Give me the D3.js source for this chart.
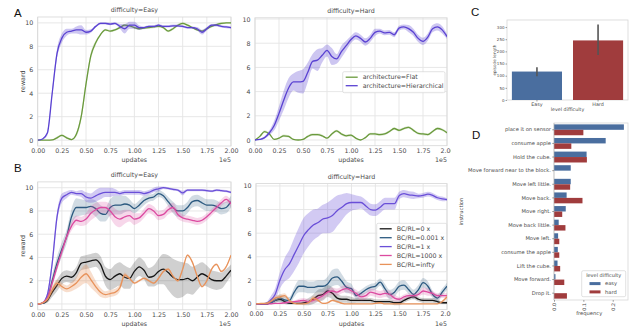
<!DOCTYPE html>
<html>
<head>
<meta charset="utf-8">
<script src="https://cdn.jsdelivr.net/npm/d3@7/dist/d3.min.js"></script>
<style>
  body { margin: 0; background: #fff; }
  svg { font-family: "DejaVu Sans", sans-serif; }
</style>
</head>
<body>
<svg id="fig" width="640" height="329"></svg>
<script>
// x positions of every sample, in units of 1e5 updates
var updates = [0, 0.05, 0.1, 0.15, 0.2, 0.25, 0.3, 0.35, 0.4, 0.45, 0.5, 0.55, 0.6, 0.65, 0.7, 0.75, 0.8, 0.85, 0.9, 0.95,
  1.0, 1.05, 1.1, 1.15, 1.2, 1.25, 1.3, 1.35, 1.4, 1.45, 1.5, 1.55, 1.6, 1.65, 1.7, 1.75, 1.8, 1.85, 1.9, 1.95, 2.0]
var xTicks = [0, 0.25, 0.5, 0.75, 1, 1.25, 1.5, 1.75, 2]
var xTickLabels = ['0.00', '0.25', '0.50', '0.75', '1.00', '1.25', '1.50', '1.75', '2.00']
var yTicks = [0, 2, 4, 6, 8, 10]

// A: architecture, easy
var easyFlat = [0, 0, 0, 0.02, 0.2, 0.4, 0.2, 0.05, 0.5, 2.0, 4.8, 7.2, 8.3, 9.0, 9.4, 9.3, 9.4, 9.6, 9.8, 9.75,
  9.6, 9.5, 9.55, 9.6, 9.65, 9.7, 9.6, 9.3, 9.5, 9.8, 9.95, 9.8, 9.6, 9.4, 9.3, 9.5, 9.7, 9.85, 9.95, 10.0, 10.0]
var easyFlatBand = [0, 0, 0, 0.02, 0.1, 0.1, 0.1, 0.05, 0.2, 0.3, 0.3, 0.3, 0.2, 0.1, 0.1, 0.1, 0.1, 0.1, 0.1, 0.1,
  0.1, 0.1, 0.1, 0.1, 0.1, 0.1, 0.1, 0.1, 0.1, 0.1, 0.1, 0.1, 0.1, 0.1, 0.1, 0.1, 0.1, 0.1, 0.1, 0.05, 0.05]
var easyHier = [0, 0.1, 0.6, 4.0, 7.4, 8.7, 9.2, 9.3, 9.4, 9.4, 9.2, 9.3, 9.7, 9.95, 9.95, 9.9, 9.95, 9.7, 9.5, 9.8,
  9.8, 9.6, 9.6, 9.7, 9.7, 9.8, 9.7, 9.7, 9.75, 9.75, 9.7, 9.6, 9.6, 9.5, 9.2, 9.5, 9.8, 9.8, 9.7, 9.65, 9.6]
var easyHierBand = [0, 0.05, 0.2, 0.3, 0.4, 0.4, 0.3, 0.2, 0.3, 0.4, 0.2, 0.15, 0.1, 0.1, 0.1, 0.1, 0.1, 0.2, 0.4, 0.3,
  0.3, 0.2, 0.1, 0.1, 0.1, 0.1, 0.1, 0.1, 0.1, 0.1, 0.1, 0.1, 0.1, 0.15, 0.2, 0.15, 0.1, 0.1, 0.1, 0.1, 0.1]

// A: architecture, hard
var hardFlat = [0, 0.3, 0.7, 0.5, 0.05, 0.15, 0.35, 0.3, 0.05, 0, 0.05, 0.3, 0.45, 0.45, 0.35, 0.15, 0.5, 0.75, 0.5, 0.35,
  0.4, 0.15, 0, 0.2, 0.5, 0.5, 0.45, 0.5, 0.7, 0.95, 0.8, 0.95, 1.05, 0.8, 0.55, 0.5, 0.45, 0.7, 0.95, 0.85, 0.6]
var hardFlatBand = [0, 0.05, 0.1, 0.1, 0.05, 0.05, 0.1, 0.1, 0.05, 0, 0.05, 0.1, 0.1, 0.1, 0.1, 0.05, 0.1, 0.1, 0.1, 0.1,
  0.1, 0.05, 0, 0.05, 0.1, 0.1, 0.1, 0.1, 0.1, 0.1, 0.1, 0.1, 0.1, 0.1, 0.1, 0.1, 0.1, 0.1, 0.1, 0.1, 0.1]
var hardHier = [0, 0.05, 0.2, 0.6, 1.2, 2.2, 3.3, 4.3, 4.8, 4.8, 4.85, 5.6, 6.5, 6.6, 7.0, 7.4, 6.9, 6.7, 7.3, 7.8,
  8.3, 8.6, 8.4, 8.1, 8.4, 8.9, 9.0, 8.85, 8.9, 8.7, 9.25, 9.35, 9.2, 8.9, 8.4, 8.15, 8.5, 9.2, 9.35, 9.1, 8.55]
var hardHierBand = [0, 0.05, 0.1, 0.2, 0.4, 0.6, 0.8, 0.8, 0.7, 0.9, 1.0, 0.8, 0.6, 0.9, 0.6, 0.5, 0.7, 0.4, 0.5, 0.4,
  0.3, 0.3, 0.3, 0.3, 0.3, 0.3, 0.2, 0.2, 0.2, 0.2, 0.2, 0.2, 0.3, 0.3, 0.3, 0.3, 0.3, 0.3, 0.3, 0.3, 0.2]

// B: BC/RL ratio, easy
var bcEasy0 = [0, 0.05, 0.3, 1.0, 1.6, 2.2, 2.4, 2.3, 2.7, 3.5, 3.6, 3.7, 3.8, 3.4, 2.4, 2.1, 2.4, 2.6, 2.3, 2.2,
  2.8, 3.2, 2.9, 2.3, 2.4, 2.8, 3.0, 2.7, 2.3, 2.1, 2.1, 2.2, 2.0, 2.3, 2.6, 2.4, 2.1, 2.0, 2.0, 2.4, 2.9]
var bcEasy0Band = [0, 0.05, 0.2, 0.4, 0.5, 0.5, 0.5, 0.5, 0.5, 0.6, 0.6, 0.6, 0.6, 0.7, 0.8, 0.9, 1.0, 1.0, 1.0, 0.9,
  0.8, 0.8, 0.8, 0.8, 0.9, 1.1, 1.3, 1.5, 1.6, 1.6, 1.5, 1.3, 1.2, 1.1, 1.0, 0.9, 0.8, 0.8, 0.7, 0.6, 0.5]
var bcEasy0001 = [0, 0.05, 0.5, 2.0, 3.5, 4.7, 5.8, 7.5, 8.3, 8.3, 8.3, 8.4, 8.2, 7.8, 7.7, 8.3, 8.5, 8.5, 8.6, 8.5,
  8.2, 8.5, 8.9, 9.1, 9.2, 9.5, 9.3, 8.8, 8.3, 8.0, 8.0, 8.3, 8.8, 8.9, 8.7, 8.5, 8.5, 8.4, 8.2, 8.3, 8.8]
var bcEasy0001Band = [0, 0.05, 0.3, 0.5, 0.6, 0.6, 0.6, 0.7, 0.8, 0.7, 0.6, 0.6, 0.7, 0.7, 0.6, 0.7, 0.8, 0.8, 0.7, 0.5,
  0.4, 0.4, 0.4, 0.3, 0.3, 0.3, 0.3, 0.4, 0.5, 0.5, 0.5, 0.5, 0.5, 0.5, 0.5, 0.5, 0.5, 0.5, 0.5, 0.5, 0.5]
var bcEasy1 = [0, 0.1, 0.8, 3.5, 7.5, 9.1, 9.4, 9.6, 9.5, 9.5, 9.2, 9.1, 9.3, 9.5, 9.6, 9.6, 9.6, 9.5, 9.6, 9.6,
  9.6, 9.6, 9.5, 9.6, 9.8, 9.9, 10.0, 9.95, 9.85, 9.8, 9.55, 9.8, 9.8, 9.8, 9.8, 9.75, 9.7, 9.8, 9.75, 9.7, 9.6]
var bcEasy1Band = [0, 0.05, 0.2, 0.4, 0.4, 0.4, 0.3, 0.2, 0.2, 0.3, 0.4, 0.4, 0.5, 0.5, 0.4, 0.4, 0.3, 0.2, 0.2, 0.2,
  0.2, 0.2, 0.2, 0.2, 0.2, 0.2, 0.1, 0.1, 0.1, 0.1, 0.2, 0.1, 0.1, 0.1, 0.1, 0.1, 0.1, 0.1, 0.1, 0.1, 0.1]
var bcEasy1000 = [0, 0.1, 0.5, 1.8, 3.2, 4.5, 5.8, 6.7, 7.2, 7.1, 7.3, 7.8, 8.1, 8.3, 8.3, 8.0, 7.5, 7.3, 7.5, 7.6,
  7.3, 7.4, 7.8, 8.2, 8.0, 7.6, 7.7, 8.1, 8.3, 7.7, 7.4, 7.3, 7.2, 7.1, 7.2, 7.5, 7.9, 8.3, 8.7, 9.0, 8.6]
var bcEasy1000Band = [0, 0.05, 0.2, 0.3, 0.3, 0.3, 0.3, 0.4, 0.4, 0.4, 0.5, 0.6, 0.6, 0.5, 0.5, 0.6, 0.7, 0.7, 0.6, 0.5,
  0.5, 0.4, 0.4, 0.4, 0.4, 0.4, 0.4, 0.4, 0.4, 0.4, 0.3, 0.3, 0.3, 0.3, 0.3, 0.3, 0.3, 0.3, 0.3, 0.3, 0.3]
var bcEasyInf = [0, 0.1, 0.4, 1.2, 1.8, 1.5, 1.3, 1.5, 1.8, 2.3, 2.6, 2.1, 1.5, 1.0, 0.8, 0.9, 1.0, 1.4, 2.5, 2.2,
  1.8, 2.0, 2.2, 2.0, 1.8, 2.2, 2.8, 3.0, 2.4, 2.0, 3.0, 4.2, 3.6, 2.4, 1.5, 2.0, 3.0, 3.4, 2.8, 3.2, 4.2]
var bcEasyInfBand = [0, 0.05, 0.2, 0.3, 0.3, 0.3, 0.3, 0.4, 0.5, 0.7, 0.8, 0.7, 0.5, 0.4, 0.3, 0.3, 0.3, 0.3, 0.2, 0.1,
  0.1, 0.1, 0.1, 0.1, 0.1, 0.1, 0.1, 0.1, 0.1, 0.1, 0.1, 0.1, 0.1, 0.1, 0.1, 0.1, 0.1, 0.1, 0.1, 0.1, 0.1]

// B: BC/RL ratio, hard
var bcHard0 = [0, 0, 0, 0.1, 0.3, 0.4, 0.2, 0.05, 0.05, 0.05, 0.1, 0.2, 0.4, 0.7, 0.8, 1.1, 0.9, 0.5, 0.4, 0.4,
  0.3, 0.3, 0.3, 0.3, 0.3, 0.2, 0.2, 0.2, 0.2, 0.1, 0.1, 0.3, 0.5, 0.6, 0.4, 0.3, 0.3, 0.3, 0.2, 0.1, 0.1]
var bcHard0Band = [0, 0, 0, 0.1, 0.2, 0.2, 0.2, 0.1, 0.1, 0.1, 0.2, 0.3, 0.4, 0.5, 0.5, 0.5, 0.5, 0.4, 0.3, 0.3,
  0.3, 0.2, 0.2, 0.2, 0.2, 0.2, 0.2, 0.2, 0.2, 0.2, 0.2, 0.2, 0.2, 0.2, 0.2, 0.2, 0.2, 0.2, 0.2, 0.1, 0.1]
var bcHard0001 = [0, 0, 0, 0.1, 0.3, 0.5, 0.35, 0.3, 1.0, 1.5, 1.5, 1.4, 1.4, 1.5, 1.5, 1.7, 2.2, 2.3, 1.9, 1.4,
  1.3, 0.7, 0.9, 1.2, 1.4, 1.5, 1.85, 1.3, 0.8, 1.0, 1.5, 1.6, 1.2, 0.8, 1.2, 1.8, 1.5, 0.8, 0.5, 1.0, 1.5]
var bcHard0001Band = [0, 0, 0, 0.1, 0.2, 0.3, 0.3, 0.3, 0.4, 0.5, 0.5, 0.5, 0.5, 0.5, 0.5, 0.6, 0.7, 0.7, 0.6, 0.5,
  0.4, 0.3, 0.3, 0.3, 0.3, 0.3, 0.3, 0.4, 0.4, 0.4, 0.4, 0.4, 0.4, 0.4, 0.4, 0.4, 0.4, 0.3, 0.3, 0.3, 0.3]
var bcHard1 = [0, 0.02, 0.05, 0.3, 0.8, 2.0, 2.9, 3.4, 4.2, 5.0, 5.8, 6.3, 6.7, 6.9, 7.2, 7.3, 7.5, 7.9, 8.2, 8.5,
  8.6, 8.6, 8.6, 8.3, 8.0, 7.95, 8.2, 8.5, 8.5, 8.5, 9.2, 9.35, 9.25, 9.2, 9.15, 9.2, 9.3, 9.2, 9.0, 8.9, 8.85]
var bcHard1Band = [0, 0.02, 0.05, 0.3, 0.5, 0.7, 1.0, 1.2, 1.4, 1.5, 1.5, 1.4, 1.3, 1.2, 1.2, 1.3, 1.4, 1.3, 1.1, 0.9,
  0.7, 0.6, 0.5, 0.5, 0.5, 0.5, 0.5, 0.5, 0.5, 0.5, 0.3, 0.3, 0.3, 0.3, 0.2, 0.2, 0.2, 0.2, 0.2, 0.2, 0.1]
var bcHard1000 = [0, 0, 0, 0, 0.05, 0.05, 0.1, 0.15, 0.2, 0.25, 0.3, 0.2, 0.3, 0.5, 0.7, 1.0, 1.1, 1.0, 1.2, 1.3,
  1.1, 0.9, 0.6, 0.7, 1.0, 0.9, 0.8, 0.9, 0.8, 0.5, 0.4, 0.6, 0.7, 0.7, 0.8, 1.1, 1.0, 0.9, 0.7, 0.7, 0.7]
var bcHard1000Band = [0, 0, 0, 0, 0.05, 0.05, 0.1, 0.1, 0.1, 0.2, 0.2, 0.2, 0.2, 0.3, 0.3, 0.3, 0.3, 0.3, 0.3, 0.3,
  0.3, 0.3, 0.3, 0.3, 0.3, 0.3, 0.3, 0.3, 0.3, 0.3, 0.2, 0.2, 0.2, 0.2, 0.2, 0.3, 0.3, 0.2, 0.2, 0.2, 0.2]
var bcHardInf = [0, 0.05, 0.05, 0.2, 0.5, 0.6, 0.7, 0.3, 0.05, 0, 0, 0.1, 0.5, 0.3, 0.05, 0.1, 0.3, 0.2, 0.05, 0,
  0, 0, 0, 0, 0, 0.05, 0.1, 0, 0, 0, 0, 0, 0, 0, 0, 0, 0, 0, 0, 0.2, 0.6]
var bcHardInfBand = [0, 0.02, 0.05, 0.1, 0.2, 0.2, 0.2, 0.1, 0.05, 0, 0, 0.05, 0.2, 0.1, 0.05, 0.05, 0.1, 0.1, 0.05, 0,
  0, 0, 0, 0, 0, 0.05, 0.05, 0, 0, 0, 0, 0, 0, 0, 0, 0, 0, 0, 0, 0.1, 0.2]

var archNames = ['architecture=Flat', 'architecture=Hierarchical']
var archColors = ['#6a9a3c', '#5a42d2']
var bcNames = ['BC/RL=0 x', 'BC/RL=0.001 x', 'BC/RL=1 x', 'BC/RL=1000 x', 'BC/RL=infty']
var bcColors = ['#161616', '#2c5a80', '#6a4fd8', '#dc4aa0', '#e8925a']

// C: episode length
var levels = ['Easy', 'Hard']
var episodeLength = [117, 245]
var episodeLow = [98, 185]
var episodeHigh = [135, 310]
var lengthTicks = [0, 50, 100, 150, 200, 250, 300]

// D: instruction frequency
var instructions = ['place it on sensor', 'consume apple', 'Hold the cube.', 'Move forward near to the block.',
  'Move left little.', 'Move back.', 'Move right.', 'Move back little.', 'Move left.', 'consume the apple',
  'Lift the cube.', 'Move forward.', 'Drop it.']
var freqEasy = [0.238, 0.176, 0.111, 0.057, 0.057, 0.043, 0.040, 0.016, 0.014, 0.013, 0.012, 0.005, 0]
var freqHard = [0.100, 0.059, 0.112, 0, 0.055, 0.097, 0.028, 0.039, 0.018, 0.018, 0.021, 0.035, 0.044]
var freqTicks = [0, 0.1, 0.2]
var diffNames = ['easy', 'hard']
var diffColors = ['#4a6e9f', '#a03c3d']

var gridColor = '#e4e4e4'
var spineColor = '#d6d6d6'
var textColor = '#4a4a4a'

var svg = d3.select('#fig')

///////////////////////
// LINE PANELS (A,B) //
///////////////////////

function linePanel(p) {
  var g = svg.append('g')
  var x = d3.scaleLinear().domain([0, 2]).range([p.left, p.right])
  var y = d3.scaleLinear().domain(p.yDomain).range([p.bottom, p.top])

  g.append('g').selectAll('line').data(xTicks).join('line')
    .attr('x1', d => x(d)).attr('x2', d => x(d))
    .attr('y1', p.top).attr('y2', p.bottom)
    .attr('stroke', gridColor).attr('stroke-width', 0.9)
  g.append('g').selectAll('line').data(yTicks).join('line')
    .attr('x1', p.left).attr('x2', p.right)
    .attr('y1', d => y(d)).attr('y2', d => y(d))
    .attr('stroke', gridColor).attr('stroke-width', 0.9)
  g.append('rect')
    .attr('x', p.left).attr('y', p.top)
    .attr('width', p.right - p.left).attr('height', p.bottom - p.top)
    .attr('fill', 'none').attr('stroke', spineColor).attr('stroke-width', 0.8)

  svg.append('clipPath').attr('id', 'clip-' + p.id)
    .append('rect')
    .attr('x', p.left).attr('y', p.top)
    .attr('width', p.right - p.left).attr('height', p.bottom - p.top)
  var plot = g.append('g').attr('clip-path', 'url(#clip-' + p.id + ')')

  var area = d3.area().curve(d3.curveMonotoneX)
    .x(d => x(d.u)).y0(d => y(d.v - d.b)).y1(d => y(d.v + d.b))
  var line = d3.line().curve(d3.curveMonotoneX)
    .x(d => x(d.u)).y(d => y(d.v))

  p.series.forEach(function(s) {
    var pts = updates.map((u, i) => ({u: u, v: s.values[i], b: s.band[i]}))
    plot.append('path').attr('d', area(pts))
      .attr('fill', s.color).attr('opacity', s.bandOpacity || 0.22)
    plot.append('path').attr('d', line(pts))
      .attr('fill', 'none').attr('stroke', s.color).attr('stroke-width', 1.3)
  })

  // axes
  var labels = g.append('g').attr('clip-path', p.labelClip ? 'url(#' + p.labelClip + ')' : null)
  var xAxis = d3.axisBottom(x).tickValues(xTicks)
    .tickFormat((d, i) => xTickLabels[i]).tickSize(0).tickPadding(2.5)
  labels.append('g').attr('transform', 'translate(0,' + p.bottom + ')').call(xAxis)
    .call(a => a.select('.domain').remove())
    .selectAll('text').attr('font-size', 6.3).attr('fill', textColor).attr('font-family', 'DejaVu Sans')

  var yAxis = d3.axisLeft(y).tickValues(yTicks).tickSize(0).tickPadding(4.5)
  g.append('g').attr('transform', 'translate(' + p.left + ',0)').call(yAxis)
    .call(a => a.select('.domain').remove())
    .selectAll('text').attr('font-size', 6.3).attr('fill', textColor).attr('font-family', 'DejaVu Sans')

  g.append('text').attr('x', (p.left + p.right) / 2).attr('y', p.top - 5)
    .attr('text-anchor', 'middle').attr('font-size', 6.3).attr('fill', textColor)
    .text(p.title)
  g.append('text').attr('x', (p.left + p.right) / 2).attr('y', p.bottom + 16)
    .attr('text-anchor', 'middle').attr('font-size', 6.3).attr('fill', textColor)
    .text('updates')
  g.append('text').attr('x', p.right).attr('y', p.bottom + 16)
    .attr('text-anchor', 'end').attr('font-size', 6.3).attr('fill', textColor)
    .text('1e5')
  if (p.yLabel) {
    g.append('text').attr('transform', 'translate(' + (p.left - 15) + ',' + ((p.top + p.bottom) / 2) + ') rotate(-90)')
      .attr('text-anchor', 'middle').attr('dy', '0.35em').attr('font-size', 6.3).attr('fill', textColor)
      .text(p.yLabel)
  }

  if (p.legend) {
    var lg = g.append('g')
    var L = p.legend
    lg.append('rect').attr('x', L.x).attr('y', L.y).attr('width', L.w)
      .attr('height', L.rowH * L.names.length + 4).attr('rx', 1.5)
      .attr('fill', '#fff').attr('fill-opacity', 0.85).attr('stroke', '#d0d0d0').attr('stroke-width', 0.6)
    L.names.forEach(function(name, i) {
      var cy = L.y + 5.5 + i * L.rowH
      lg.append('line').attr('x1', L.x + 3).attr('x2', L.x + 15).attr('y1', cy).attr('y2', cy)
        .attr('stroke', L.colors[i]).attr('stroke-width', 1.3)
      lg.append('text').attr('x', L.x + 20).attr('y', cy).attr('dy', '0.35em')
        .attr('font-size', 6.3).attr('fill', textColor).text(name)
    })
  }
}

// clip that cuts the right-hand tick labels at the figure edge
svg.append('clipPath').attr('id', 'rightEdge')
  .append('rect').attr('x', 230).attr('y', 0).attr('width', 221).attr('height', 329)

linePanel({
  id: 'aEasy', left: 37.7, right: 231, top: 17, bottom: 146, yDomain: [-0.5, 10.5],
  title: 'difficulty=Easy', yLabel: 'reward',
  series: [
    {values: easyFlat, band: easyFlatBand, color: archColors[0]},
    {values: easyHier, band: easyHierBand, color: archColors[1], bandOpacity: 0.3}
  ]
})
linePanel({
  id: 'aHard', left: 255, right: 447, top: 17.8, bottom: 145.7, yDomain: [-0.47, 10.1],
  title: 'difficulty=Hard', labelClip: 'rightEdge',
  series: [
    {values: hardFlat, band: hardFlatBand, color: archColors[0]},
    {values: hardHier, band: hardHierBand, color: archColors[1], bandOpacity: 0.3}
  ],
  legend: {x: 342.7, y: 71.7, w: 102.3, rowH: 8.5, names: archNames, colors: archColors}
})
linePanel({
  id: 'bEasy', left: 37.7, right: 231, top: 181.9, bottom: 309.8, yDomain: [-0.5, 10.5],
  title: 'difficulty=Easy', yLabel: 'reward',
  series: [
    {values: bcEasy0, band: bcEasy0Band, color: bcColors[0], bandOpacity: 0.2},
    {values: bcEasy0001, band: bcEasy0001Band, color: bcColors[1]},
    {values: bcEasy1, band: bcEasy1Band, color: bcColors[2], bandOpacity: 0.3},
    {values: bcEasy1000, band: bcEasy1000Band, color: bcColors[3]},
    {values: bcEasyInf, band: bcEasyInfBand, color: bcColors[4], bandOpacity: 0.3}
  ]
})
linePanel({
  id: 'bHard', left: 256, right: 447, top: 183.6, bottom: 309.5, yDomain: [-0.47, 10.2],
  title: 'difficulty=Hard', labelClip: 'rightEdge',
  series: [
    {values: bcHard0, band: bcHard0Band, color: bcColors[0], bandOpacity: 0.2},
    {values: bcHard0001, band: bcHard0001Band, color: bcColors[1]},
    {values: bcHard1, band: bcHard1Band, color: bcColors[2], bandOpacity: 0.3},
    {values: bcHard1000, band: bcHard1000Band, color: bcColors[3]},
    {values: bcHardInf, band: bcHardInfBand, color: bcColors[4], bandOpacity: 0.3}
  ],
  legend: {x: 376.7, y: 223.3, w: 70, rowH: 8.9, names: bcNames, colors: bcColors}
})

/////////////////////
// C: BAR + ERRORS //
/////////////////////

var cBox = {left: 507, right: 628, top: 20, bottom: 100}
var cx = d3.scaleBand().domain(levels).range([cBox.left, cBox.right]).paddingInner(0.18).paddingOuter(0.08)
var cy = d3.scaleLinear().domain([0, 329]).range([cBox.bottom, cBox.top])
var cg = svg.append('g')
cg.append('rect').attr('x', cBox.left).attr('y', cBox.top)
  .attr('width', cBox.right - cBox.left).attr('height', cBox.bottom - cBox.top)
  .attr('fill', 'none').attr('stroke', spineColor).attr('stroke-width', 0.8)
cg.selectAll('rect.bar').data(levels).join('rect').attr('class', 'bar')
  .attr('x', d => cx(d)).attr('width', cx.bandwidth())
  .attr('y', (d, i) => cy(episodeLength[i])).attr('height', (d, i) => cy(0) - cy(episodeLength[i]))
  .attr('fill', (d, i) => diffColors[i])
cg.selectAll('line.err').data(levels).join('line').attr('class', 'err')
  .attr('x1', d => cx(d) + cx.bandwidth() / 2).attr('x2', d => cx(d) + cx.bandwidth() / 2)
  .attr('y1', (d, i) => cy(episodeLow[i])).attr('y2', (d, i) => cy(episodeHigh[i]))
  .attr('stroke', '#555').attr('stroke-width', 1.6)
cg.append('g').attr('transform', 'translate(' + cBox.left + ',0)')
  .call(d3.axisLeft(cy).tickValues(lengthTicks).tickSize(1.5).tickPadding(1))
  .call(a => a.select('.domain').remove())
  .call(a => a.selectAll('line').attr('stroke', '#444').attr('stroke-width', 0.5))
  .selectAll('text').attr('font-size', 4).attr('fill', textColor).attr('font-family', 'DejaVu Sans')
cg.append('g').attr('transform', 'translate(0,' + cBox.bottom + ')')
  .call(d3.axisBottom(cx).tickSize(1.5).tickPadding(1))
  .call(a => a.select('.domain').remove())
  .call(a => a.selectAll('line').attr('stroke', '#444').attr('stroke-width', 0.5))
  .selectAll('text').attr('font-size', 4.8).attr('fill', textColor).attr('font-family', 'DejaVu Sans')
cg.append('text').attr('x', (cBox.left + cBox.right) / 2).attr('y', 111)
  .attr('text-anchor', 'middle').attr('font-size', 4.8).attr('fill', textColor).text('level difficulty')
cg.append('text').attr('transform', 'translate(495,' + ((cBox.top + cBox.bottom) / 2) + ') rotate(-90)')
  .attr('text-anchor', 'middle').attr('dy', '0.35em').attr('font-size', 4.2).attr('fill', textColor)
  .text('episode length')

/////////////////////////
// D: GROUPED BARS (H) //
/////////////////////////

var dBox = {left: 554, right: 628, top: 123, bottom: 300}
var dx = d3.scaleLinear().domain([0, 0.252]).range([dBox.left, dBox.right])
var dy = d3.scaleBand().domain(instructions).range([dBox.top, dBox.bottom]).paddingInner(0.2).paddingOuter(0.1)
var dSub = d3.scaleBand().domain(diffNames).range([0, dy.bandwidth()])
var dg = svg.append('g')
dg.append('rect').attr('x', dBox.left).attr('y', dBox.top)
  .attr('width', dBox.right - dBox.left).attr('height', dBox.bottom - dBox.top)
  .attr('fill', 'none').attr('stroke', spineColor).attr('stroke-width', 0.8)

var freqs = [freqEasy, freqHard]
diffNames.forEach(function(name, k) {
  dg.append('g').selectAll('rect').data(instructions).join('rect')
    .attr('x', dx(0)).attr('y', d => dy(d) + dSub(name))
    .attr('width', (d, i) => dx(freqs[k][i]) - dx(0)).attr('height', dSub.bandwidth())
    .attr('fill', diffColors[k])
})
dg.append('line').attr('x1', dBox.left).attr('x2', dBox.left)
  .attr('y1', dBox.top).attr('y2', dBox.bottom).attr('stroke', '#bbb').attr('stroke-width', 0.6)

dg.append('g').attr('transform', 'translate(' + dBox.left + ',0)')
  .call(d3.axisLeft(dy).tickSize(1.8).tickPadding(1.2))
  .call(a => a.select('.domain').remove())
  .call(a => a.selectAll('line').attr('stroke', '#444').attr('stroke-width', 0.5))
  .selectAll('text').attr('font-size', 5.2).attr('fill', textColor).attr('font-family', 'DejaVu Sans')

var dAxis = dg.append('g').attr('transform', 'translate(0,' + dBox.bottom + ')')
  .call(d3.axisBottom(dx).tickValues(freqTicks).tickFormat(d3.format('.1f')).tickSize(1.8))
  .call(a => a.select('.domain').remove())
  .call(a => a.selectAll('line').attr('stroke', '#444').attr('stroke-width', 0.5))
dAxis.selectAll('text')
  .attr('font-size', 4.8).attr('fill', textColor).attr('font-family', 'DejaVu Sans')
  .attr('y', 0).attr('dy', '0.35em').attr('text-anchor', 'end')
  .attr('transform', 'translate(0,3) rotate(-90)')
dg.append('text').attr('x', dx(0.12)).attr('y', 315)
  .attr('text-anchor', 'middle').attr('font-size', 5.2).attr('fill', textColor).text('frequency')
dg.append('text').attr('transform', 'translate(461,' + ((dBox.top + dBox.bottom) / 2) + ') rotate(-90)')
  .attr('text-anchor', 'middle').attr('dy', '0.35em').attr('font-size', 5.2).attr('fill', textColor)
  .text('instruction')

// legend
var dl = dg.append('g')
dl.append('rect').attr('x', 581.7).attr('y', 270.7).attr('width', 44).attr('height', 26).attr('rx', 1.5)
  .attr('fill', '#fff').attr('fill-opacity', 0.85).attr('stroke', '#ccc').attr('stroke-width', 0.6)
dl.append('text').attr('x', 603.7).attr('y', 275.5).attr('dy', '0.35em')
  .attr('text-anchor', 'middle').attr('font-size', 5).attr('fill', textColor).text('level difficulty')
diffNames.forEach(function(name, k) {
  var cyy = 283.6 + k * 8.3
  dl.append('rect').attr('x', 589.5).attr('y', cyy - 1.5).attr('width', 11).attr('height', 3)
    .attr('fill', diffColors[k])
  dl.append('text').attr('x', 605).attr('y', cyy).attr('dy', '0.35em')
    .attr('font-size', 5.2).attr('fill', textColor).text(name)
})

///////////////////
// PANEL LETTERS //
///////////////////

var letters = [['A', 14, 17], ['B', 14, 172], ['C', 471, 16], ['D', 472, 139]]
svg.selectAll('text.letter').data(letters).join('text').attr('class', 'letter')
  .attr('x', d => d[1]).attr('y', d => d[2])
  .attr('font-size', 11.5).attr('fill', '#111').attr('font-family', 'Liberation Sans')
  .text(d => d[0])
</script>
</body>
</html>
